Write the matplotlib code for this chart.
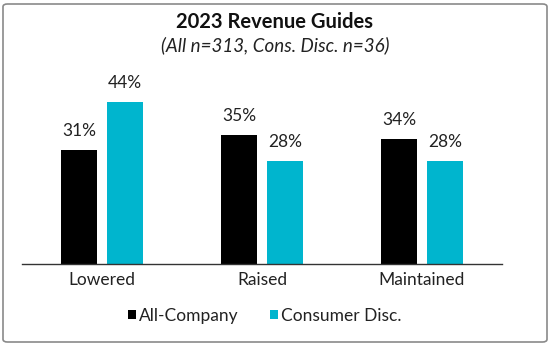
import matplotlib
matplotlib.use("Agg")
import matplotlib.pyplot as plt
from matplotlib.patches import FancyBboxPatch
import numpy as np

categories = ["Lowered", "Raised", "Maintained"]
all_company = [31, 35, 34]
consumer_disc = [44, 28, 28]
series_names = ["All-Company", "Consumer Disc."]
colors = ["#000000", "#00B5CE"]

plt.rcParams['font.family'] = ['Lato', 'DejaVu Sans']

fig = plt.figure(figsize=(5.5, 3.45), dpi=100)
ax = fig.add_axes([22/550, 1 - 264/345, 480/550, 184/345])

x = np.arange(len(categories))
w = 0.225
off = 0.142
b1 = ax.bar(x - off, all_company, w, color=colors[0], label=series_names[0])
b2 = ax.bar(x + off, consumer_disc, w, color=colors[1], label=series_names[1])
for bars, vals in ((b1, all_company), (b2, consumer_disc)):
    for r, v in zip(bars, vals):
        ax.text(r.get_x() + r.get_width()/2, v + 3.0, f"{v}%", ha='center', va='bottom',
                fontsize=12.5, color='#222222')

ax.set_xlim(-0.5, 2.5)
ax.set_ylim(0, 50)
ax.set_xticks(x)
ax.set_xticklabels(categories, fontsize=12.5, color='#222222')
ax.tick_params(axis='x', length=0, pad=6)
ax.set_yticks([])
for s in ['top', 'right', 'left']:
    ax.spines[s].set_visible(False)
ax.spines['bottom'].set_color('#333333')
ax.spines['bottom'].set_linewidth(1.0)

leg = fig.legend(handles=[b1, b2], labels=series_names, loc='center',
                 bbox_to_anchor=(265/550, 1 - 316/345), ncol=2, frameon=False,
                 fontsize=12.5, handlelength=0.45, handleheight=0.45,
                 handletextpad=0.2, columnspacing=1.8)
for t in leg.get_texts():
    t.set_color('#222222')

fig.text(0.5, 1 - 22/345, "2023 Revenue Guides", ha='center', va='center',
         fontsize=14.5, fontweight='bold', color='#111111')
fig.text(0.5, 1 - 45/345, "(All n=313, Cons. Disc. n=36)", ha='center', va='center',
         fontsize=13.5, fontstyle='italic', color='#222222')

border = FancyBboxPatch((3/550, 3/345), 544/550, 338/345,
                        boxstyle="round,pad=0,rounding_size=0.008",
                        transform=fig.transFigure, fill=False,
                        edgecolor='#8a8a8a', linewidth=1.2)
fig.patches.append(border)

fig.savefig("out.png", dpi=100)
